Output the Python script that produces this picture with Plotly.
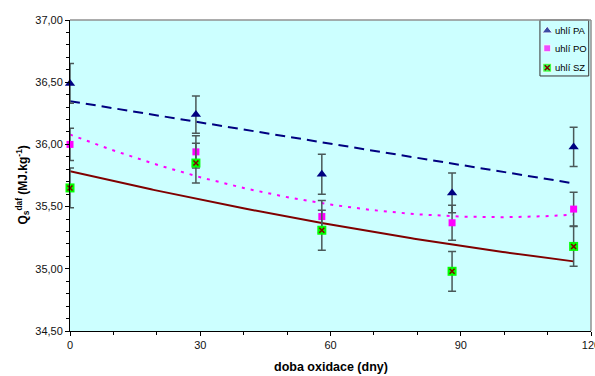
import numpy as np
import plotly.graph_objects as go

# Data
days = [0, 29, 58, 88, 116]
pa = [36.49, 36.24, 35.76, 35.61, 35.98]
po = [36.00, 35.94, 35.42, 35.37, 35.48]
sz = [35.65, 35.85, 35.31, 34.98, 35.18]
pa_err = [0.16, 0.15, 0.16, 0.16, 0.157]
po_err = [0.13, 0.13, 0.13, 0.14, 0.135]
sz_err = [0.16, 0.16, 0.16, 0.16, 0.16]
names = ["uhlí PA", "uhlí PO", "uhlí SZ"]
y_ticks = [34.5, 35.0, 35.5, 36.0, 36.5, 37.0]
x_ticks = [0, 30, 60, 90, 120]

# Excel-style trendlines (least squares fits of the series)
xs = np.linspace(min(days), max(days), 200)
fit_pa = np.polyval(np.polyfit(days, pa, 1), xs)
fit_po = np.polyval(np.polyfit(days, po, 2), xs)
fit_sz = np.polyval(np.polyfit(days, sz, 2), xs)

NAVY, MAG, GREEN, DRED = "#000080", "#ff00ff", "#00ff00", "#800000"
errcol = "#4a5858"
FONT = "Liberation Sans, Arial, sans-serif"

fig = go.Figure()

fig.add_trace(go.Scatter(x=xs, y=fit_pa, mode="lines", showlegend=False, hoverinfo="skip",
                         line=dict(color=NAVY, width=2, dash="10px,6px")))
fig.add_trace(go.Scatter(x=xs, y=fit_po, mode="lines", showlegend=False, hoverinfo="skip",
                         line=dict(color=MAG, width=2, dash="3px,6px")))
fig.add_trace(go.Scatter(x=xs, y=fit_sz, mode="lines", showlegend=False, hoverinfo="skip",
                         line=dict(color=DRED, width=2)))

def err(v):
    return dict(type="data", array=v, visible=True, color=errcol, thickness=1.5, width=4)

fig.add_trace(go.Scatter(x=days, y=pa, mode="markers", name=names[0], cliponaxis=False,
                         error_y=err(pa_err), showlegend=False,
                         marker=dict(symbol="triangle-up", size=9, color=NAVY)))
fig.add_trace(go.Scatter(x=days, y=po, mode="markers", name=names[1], cliponaxis=False,
                         error_y=err(po_err), showlegend=False,
                         marker=dict(symbol="square", size=7, color=MAG)))
fig.add_trace(go.Scatter(x=days, y=sz, mode="markers", name=names[2], cliponaxis=False,
                         error_y=err(sz_err), showlegend=False,
                         marker=dict(symbol="square", size=9, color=GREEN)))
fig.add_trace(go.Scatter(x=days, y=sz, mode="markers", showlegend=False, cliponaxis=False,
                         hoverinfo="skip",
                         marker=dict(symbol="x-thin", size=5, color=DRED,
                                     line=dict(color=DRED, width=1.5))))

# compact Excel-like legend (layout only) drawn on a hidden overlay axis
leg = dict(x0=0.902, x1=0.9956, y0=0.820, y1=1.0, sym_x=0.916, txt_x=0.927,
           rows=[0.9656, 0.909, 0.8466])
fig.add_shape(type="rect", xref="paper", yref="paper", x0=leg["x0"], x1=leg["x1"],
              y0=leg["y0"], y1=leg["y1"], layer="below",
              line=dict(color="#333333", width=1), fillcolor="#ccffff")
sx = [leg["sym_x"]] * 3
fig.add_trace(go.Scatter(x=sx, y=leg["rows"], xaxis="x2", yaxis="y2", mode="markers",
                         showlegend=False, hoverinfo="skip", cliponaxis=False,
                         marker=dict(symbol=["triangle-up", "square", "square"],
                                     size=[9, 7, 9], color=[NAVY, MAG, GREEN])))
fig.add_trace(go.Scatter(x=[leg["sym_x"]], y=[leg["rows"][2]], xaxis="x2", yaxis="y2",
                         mode="markers", showlegend=False, hoverinfo="skip", cliponaxis=False,
                         marker=dict(symbol="x-thin", size=5, color=DRED,
                                     line=dict(color=DRED, width=1.5))))
for nm, ry in zip(names, leg["rows"]):
    fig.add_annotation(x=leg["txt_x"], y=ry, xref="paper", yref="paper", text=nm,
                       showarrow=False, xanchor="left", yanchor="middle",
                       font=dict(size=9.5, family=FONT, color="black"))

# axis titles
fig.add_annotation(x=-0.090, y=0.468, xref="paper", yref="paper", textangle=-90,
                   text="<b>Q<sub>s</sub><sup>daf</sup> (MJ.kg<sup>-1</sup>)</b>",
                   showarrow=False, xanchor="center", yanchor="middle",
                   font=dict(size=12, family=FONT, color="black"))
fig.add_annotation(x=0.5, y=-0.116, xref="paper", yref="paper",
                   text="<b>doba oxidace (dny)</b>", showarrow=False,
                   xanchor="center", yanchor="middle",
                   font=dict(size=12.5, family=FONT, color="black"))

fig.update_layout(
    width=595, height=376,
    margin=dict(l=70, r=4, t=20, b=45, autoexpand=False),
    paper_bgcolor="white", plot_bgcolor="#ccffff",
    separators=", ",
    font=dict(family=FONT, size=11, color="#111111"),
    showlegend=False,
    xaxis=dict(range=[0, 120], tickvals=x_ticks, ticks="outside", ticklen=4,
               showgrid=False, zeroline=False, showline=True, linecolor="black",
               linewidth=1, tickcolor="black", ticklabeloverflow="allow",
               automargin=False,
               minor=dict(dtick=10, ticks="outside", ticklen=3, tickcolor="black")),
    yaxis=dict(range=[34.5, 37.0], tickvals=y_ticks, tickformat=".2f", ticks="outside",
               ticklen=4, showgrid=False, zeroline=False, showline=True, linecolor="black",
               linewidth=1, tickcolor="black", automargin=False,
               minor=dict(dtick=0.1, ticks="outside", ticklen=3, tickcolor="black")),
    xaxis2=dict(domain=[0, 1], range=[0, 1], overlaying="x", visible=False, fixedrange=True),
    yaxis2=dict(domain=[0, 1], range=[0, 1], overlaying="y", visible=False, fixedrange=True),
)
# gray border on top and right of plot area
fig.add_shape(type="line", xref="paper", yref="paper", x0=0, x1=1, y0=1, y1=1,
              line=dict(color="#909090", width=1.5))
fig.add_shape(type="line", xref="paper", yref="paper", x0=1, x1=1, y0=0, y1=1,
              line=dict(color="#909090", width=1.5))

fig.write_html("out.html", config={"displayModeBar": False},
               post_script="document.body.style.margin='0px';")
